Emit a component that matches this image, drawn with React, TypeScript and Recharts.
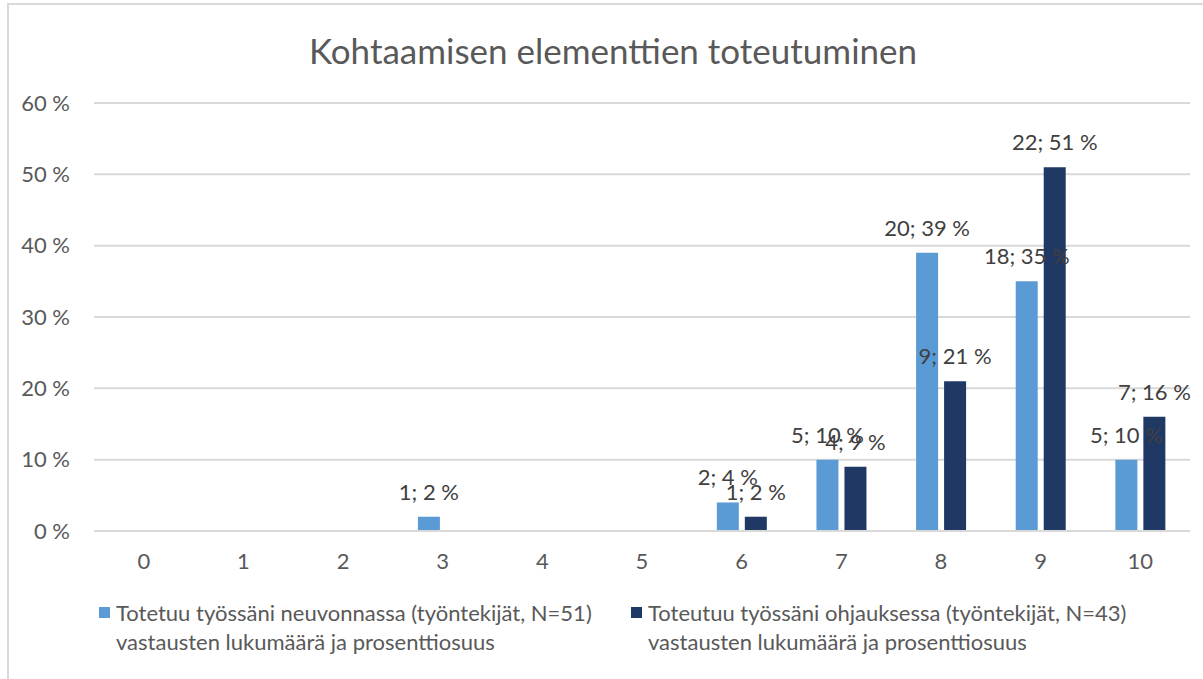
import { BarChart, Bar, XAxis, YAxis, CartesianGrid, LabelList } from "recharts";

const categories = ["0", "1", "2", "3", "4", "5", "6", "7", "8", "9", "10"];
const neuvontaCounts = [0, 0, 0, 1, 0, 0, 2, 5, 20, 18, 5];
const neuvontaPct = [0, 0, 0, 2, 0, 0, 4, 10, 39, 35, 10];
const ohjausCounts = [0, 0, 0, 0, 0, 0, 1, 4, 9, 22, 7];
const ohjausPct = [0, 0, 0, 0, 0, 0, 2, 9, 21, 51, 16];
const yTicks = [0, 10, 20, 30, 40, 50, 60];

const TITLE = "Kohtaamisen elementtien toteutuminen";
const SERIES = [
  {
    key: "neuvonta",
    color: "#5B9BD5",
    line1: "Totetuu työssäni neuvonnassa (työntekijät, N=51)",
    line2: "vastausten lukumäärä ja prosenttiosuus",
  },
  {
    key: "ohjaus",
    color: "#203864",
    line1: "Toteutuu työssäni ohjauksessa (työntekijät, N=43)",
    line2: "vastausten lukumäärä ja prosenttiosuus",
  },
];

const FONT = "Lato, 'Open Sans', sans-serif";
const TEXT = "#595959";

// "count; pct %" label, empty when the value is zero
const labelOf = (count: number, pct: number) => (pct ? `${count}; ${pct} %` : "");

const data = categories.map((name, i) => ({
  name,
  neuvonta: neuvontaPct[i],
  ohjaus: ohjausPct[i],
  neuvontaLabel: labelOf(neuvontaCounts[i], neuvontaPct[i]),
  ohjausLabel: labelOf(ohjausCounts[i], ohjausPct[i]),
}));

const renderLabel = (props: any) => {
  const { x, y, width, value } = props;
  if (!value) return null;
  return (
    <text
      x={Number(x) + Number(width) / 2}
      y={Number(y) - 17}
      textAnchor="middle"
      fill="#404040"
      fontSize={22}
      fontFamily={FONT}
    >
      {value}
    </text>
  );
};

export default function App() {
  return (
    <div
      style={{
        position: "absolute",
        left: 0,
        top: 0,
        width: 1203,
        height: 679,
        overflow: "hidden",
        background: "#fff",
        fontFamily: FONT,
      }}
    >
      {/* chart frame, only left/top edges visible */}
      <div
        style={{
          position: "absolute",
          left: 7,
          top: 3,
          width: 1240,
          height: 720,
          border: "2px solid #d9d9d9",
        }}
      />
      <div
        style={{
          position: "absolute",
          top: 28,
          left: 0,
          width: 1226,
          textAlign: "center",
          fontSize: 35,
          lineHeight: "44px",
          color: TEXT,
        }}
      >
        {TITLE}
      </div>

      <div style={{ position: "absolute", left: 0, top: 0 }}>
        <BarChart
          width={1203}
          height={679}
          data={data}
          margin={{ top: 103, right: 13, left: 14, bottom: 108 }}
          barSize={22}
          barGap={6}
        >
          <CartesianGrid vertical={false} stroke="#d9d9d9" strokeWidth={2} />
          <XAxis
            dataKey="name"
            height={40}
            axisLine={{ stroke: "#d9d9d9", strokeWidth: 2 }}
            tickLine={false}
            tickSize={0}
            tickMargin={22}
            tick={{ fontSize: 22, fill: TEXT, fontFamily: FONT }}
          />
          <YAxis
            width={80}
            domain={[0, 60]}
            ticks={yTicks}
            axisLine={false}
            tickLine={false}
            tickSize={0}
            tickMargin={24}
            tickFormatter={(v: number) => `${v} %`}
            tick={{ fontSize: 22, fill: TEXT, fontFamily: FONT }}
          />
          <Bar dataKey="neuvonta" fill={SERIES[0].color} isAnimationActive={false}>
            <LabelList dataKey="neuvontaLabel" content={renderLabel} />
          </Bar>
          <Bar dataKey="ohjaus" fill={SERIES[1].color} isAnimationActive={false}>
            <LabelList dataKey="ohjausLabel" content={renderLabel} />
          </Bar>
        </BarChart>
      </div>

      {/* legend */}
      {SERIES.map((s, i) => (
        <div
          key={s.key}
          style={{
            position: "absolute",
            left: i === 0 ? 99 : 631,
            top: 598,
            display: "flex",
            alignItems: "flex-start",
            color: TEXT,
            fontSize: 22,
            lineHeight: "29px",
          }}
        >
          <div
            style={{
              width: 11,
              height: 11,
              background: s.color,
              marginTop: 9,
              marginRight: 6,
            }}
          />
          <div>
            <div>{s.line1}</div>
            <div>{s.line2}</div>
          </div>
        </div>
      ))}
    </div>
  );
}
